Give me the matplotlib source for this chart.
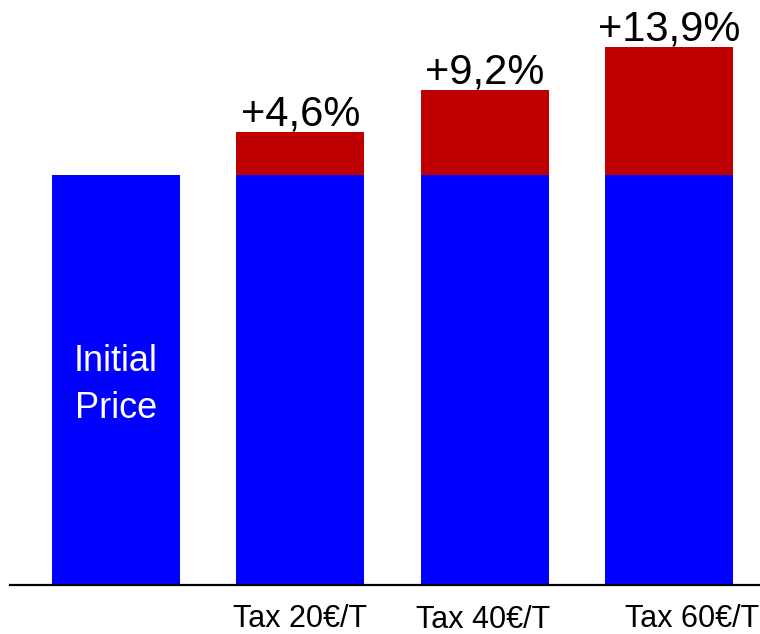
import matplotlib
matplotlib.use("Agg")
import matplotlib.pyplot as plt

plt.rcParams['font.family'] = ['Liberation Sans', 'DejaVu Sans']

categories = ["", "Tax 20€/T", "Tax 40€/T", "Tax 60€/T"]
base_values = [100, 100, 100, 100]
tax_increase = [0, 10.5, 20.7, 31.2]
pct_labels = ["", "+4,6%", "+9,2%", "+13,9%"]
base_label = "Initial\nPrice"

fig = plt.figure(figsize=(7.6, 6.34), dpi=100)
ax = fig.add_axes([10/760, 49/634, 750/760, 585/634])

x = list(range(len(categories)))
ax.bar(x, base_values, width=0.695, color='#0000FF', zorder=2)
ax.bar(x, tax_increase, bottom=base_values, width=0.695, color='#C00000', zorder=2)

ax.set_xlim(-0.575, 3.494)
ax.set_ylim(0, 142.7)

for s in ['top', 'right', 'left']:
    ax.spines[s].set_visible(False)
ax.spines['bottom'].set_linewidth(1.6)
ax.spines['bottom'].set_color('black')
ax.set_yticks([])
ax.set_xticks([])

# percentage labels above bars
for i, lab in enumerate(pct_labels):
    if lab:
        ax.annotate(lab, (x[i], base_values[i] + tax_increase[i]),
                    xytext=(0, 5), textcoords='offset points',
                    ha='center', va='baseline', fontsize=30, color='black')

# label inside first bar
ax.annotate(base_label, (x[0], base_values[0] * 0.5), xytext=(0, -3.6),
            textcoords='offset points', ha='center', va='center',
            fontsize=26, color='white', linespacing=1.45)

# category labels below axis
label_dx = [0, 0, -0.01, 0.125]
label_dy = [0, -30.0, -31.2, -30.3]
for i, lab in enumerate(categories):
    if lab:
        ax.annotate(lab, (x[i] + label_dx[i], 0), xycoords=('data', 'axes fraction'),
                    xytext=(0, label_dy[i]), textcoords='offset points',
                    ha='center', va='baseline', fontsize=22, color='black',
                    annotation_clip=False)

fig.savefig("out.png", dpi=100)
